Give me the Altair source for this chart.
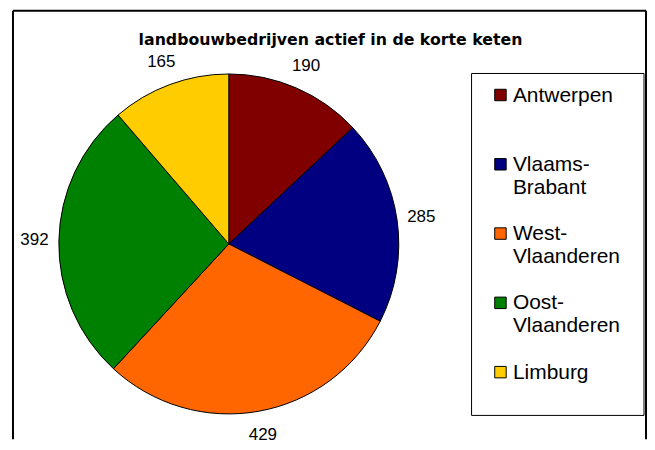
import altair as alt
import pandas as pd

# ---- data ----
regions = ["Antwerpen", "Vlaams-Brabant", "West-Vlaanderen", "Oost-Vlaanderen", "Limburg"]
values = [190, 285, 429, 392, 165]
colors = ["#800000", "#000080", "#FF6600", "#008000", "#FFCC00"]
title_text = "landbouwbedrijven actief in de korte keten"

# ---- layout ----
W, H = 635, 430
CX, CY = 216.5, 234
R = 170.5

df = pd.DataFrame({"region": regions, "value": values, "idx": list(range(len(regions)))})
one = pd.DataFrame({"t": [title_text]})

label_expr = (
    "indexof(datum.label, '-') > 0 ? "
    "[slice(datum.label, 0, indexof(datum.label, '-') + 1), slice(datum.label, indexof(datum.label, '-') + 1)] "
    ": [datum.label, '']"
)

# square symbol shifted down so it lines up with the first label line
symbol_path = "M-1,0.8H1V2.8H-1Z"

base = alt.Chart(df).encode(
    theta=alt.Theta("value:Q", stack=True),
    order=alt.Order("idx:Q"),
)

pie = base.mark_arc(outerRadius=R, stroke="black", strokeWidth=1).encode(
    x=alt.value(CX),
    y=alt.value(CY),
    color=alt.Color(
        "region:N",
        scale=alt.Scale(domain=regions, range=colors),
        sort=regions,
        legend=alt.Legend(
            title=None,
            orient="none",
            legendX=478.5,
            legendY=63.75,
            padding=0,
            symbolType=symbol_path,
            symbolSize=132,
            symbolStrokeColor="black",
            symbolStrokeWidth=1,
            labelFont="Liberation Sans",
            labelFontSize=21,
            labelColor="black",
            labelOffset=2,
            labelBaseline="top",
            labelExpr=label_expr,
            labelLimit=300,
            rowPadding=14.5,
        ),
    ),
)

value_labels = base.mark_text(
    radius=195, font="Liberation Sans", fontSize=17, color="black", baseline="middle", align="center"
).encode(
    x=alt.value(CX),
    y=alt.value(CY),
    text=alt.Text("value:Q"),
)

legend_box = alt.Chart(one).mark_rect(fill="white", stroke="black", strokeWidth=1).encode(
    x=alt.value(460), x2=alt.value(633), y=alt.value(63), y2=alt.value(406)
)

title = alt.Chart(one).mark_text(
    font="DejaVu Sans", fontWeight="bold", fontSize=15.8, color="black", align="center", baseline="alphabetic"
).encode(x=alt.value(318.5), y=alt.value(34), text="t:N")

border_left = alt.Chart(one).mark_rule(color="black", strokeWidth=2).encode(
    x=alt.value(0), y=alt.value(0), y2=alt.value(H)
)
border_top = alt.Chart(one).mark_rule(color="black", strokeWidth=2).encode(
    x=alt.value(0), x2=alt.value(W), y=alt.value(0)
)
border_right = alt.Chart(one).mark_rule(color="black", strokeWidth=2).encode(
    x=alt.value(W), y=alt.value(0), y2=alt.value(H)
)

chart = (
    alt.layer(legend_box, pie, value_labels, title, border_left, border_top, border_right)
    .properties(width=W, height=H, padding={"left": 4, "top": 1, "right": 0, "bottom": 0})
    .configure_view(stroke=None)
)

chart.save("out.html", embed_options={"renderer": "svg", "actions": False})
